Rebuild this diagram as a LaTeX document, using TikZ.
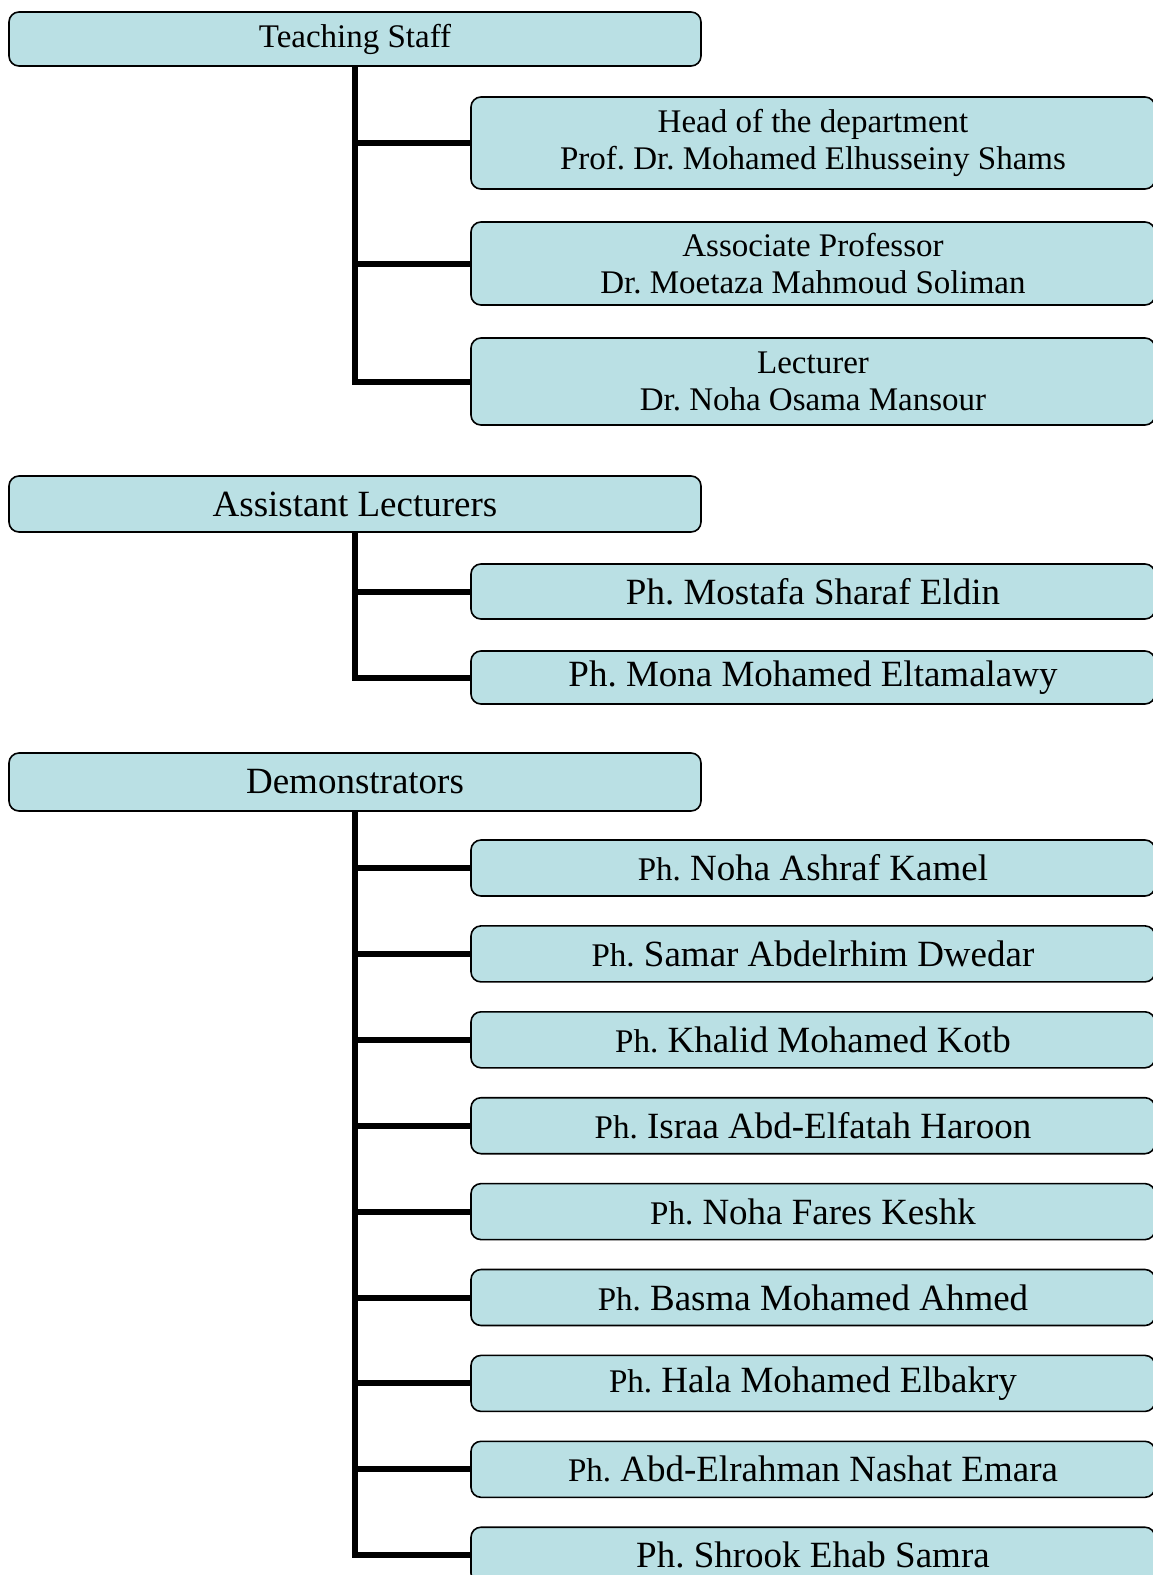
\documentclass[tikz,border=0pt]{standalone}
\usepackage{fontspec}
\setmainfont{Liberation Serif}
\frenchspacing
\definecolor{boxblue}{RGB}{186,224,228}
\tikzset{
  group/.style={draw, fill=boxblue, rounded corners=5pt, line width=0.8pt, inner sep=0pt, minimum width=346pt},
  member/.style={draw, fill=boxblue, rounded corners=5pt, line width=0.8pt, inner sep=0pt, minimum width=342pt, align=center},
  link/.style={line width=3pt}
}
\newcommand{\smallfs}{\fontsize{16.5}{18.75}\selectfont}
\newcommand{\bigfs}{\fontsize{18.5}{22}\selectfont}
\newcommand{\ph}{{\smallfs Ph.}}
\begin{document}
\begin{tikzpicture}[x=0.5pt, y=-0.5pt]
\useasboundingbox (0,0) rectangle (1152,1575);
 %% teaching staff
\node[group, minimum height=27pt, font=\smallfs] at (355,39) (ts) {Teaching Staff};
\node[member, minimum height=46pt, font=\smallfs] at (813,143) (hd) {Head of the department\\Prof. Dr. Mohamed Elhusseiny Shams};
\node[member, minimum height=41.5pt, font=\smallfs] at (813,263.5) (ap) {Associate Professor\\Dr. Moetaza Mahmoud Soliman};
\node[member, minimum height=43.5pt, font=\smallfs] at (813,381.5) (lc) {Lecturer\\Dr. Noha Osama Mansour};
\draw[link] (ts.south) |- (hd.west); \draw[link] (ts.south) |- (ap.west); \draw[link] (ts.south) |- (lc.west);
 %% assistant lecturers
\node[group, minimum height=28pt, font=\bigfs] at (355,504) (al) {Assistant Lecturers};
\node[member, minimum height=27.5pt, font=\bigfs] at (813,591.5) (ms) {Ph. Mostafa Sharaf Eldin};
\node[member, minimum height=26.5pt, font=\bigfs] at (813,677.5) (mn) {Ph. Mona Mohamed Eltamalawy};
\draw[link] (al.south) |- (ms.west); \draw[link] (al.south) |- (mn.west);
 %% demonstrators
\node[group, minimum height=29pt, font=\bigfs] at (355,782) (dm) {Demonstrators};
\node[member, minimum height=28pt, font=\bigfs] at (813,868) (d1) {\ph{} Noha Ashraf Kamel};
\node[member, minimum height=28pt, font=\bigfs] at (813,953.9) (d2) {\ph{} Samar Abdelrhim Dwedar};
\node[member, minimum height=28pt, font=\bigfs] at (813,1039.8) (d3) {\ph{} Khalid Mohamed Kotb};
\node[member, minimum height=28pt, font=\bigfs] at (813,1125.7) (d4) {\ph{} Israa Abd-Elfatah Haroon};
\node[member, minimum height=28pt, font=\bigfs] at (813,1211.6) (d5) {\ph{} Noha Fares Keshk};
\node[member, minimum height=28pt, font=\bigfs] at (813,1297.5) (d6) {\ph{} Basma Mohamed Ahmed};
\node[member, minimum height=28pt, font=\bigfs] at (813,1383.4) (d7) {\ph{} Hala Mohamed Elbakry};
\node[member, minimum height=28pt, font=\bigfs] at (813,1469.3) (d8) {\ph{} Abd-Elrahman Nashat Emara};
\node[member, minimum height=28pt, font=\bigfs] at (813,1555.2) (d9) {Ph. Shrook Ehab Samra};
\draw[link] (dm.south) |- (d1.west); \draw[link] (dm.south) |- (d2.west); \draw[link] (dm.south) |- (d3.west);
\draw[link] (dm.south) |- (d4.west); \draw[link] (dm.south) |- (d5.west); \draw[link] (dm.south) |- (d6.west);
\draw[link] (dm.south) |- (d7.west); \draw[link] (dm.south) |- (d8.west); \draw[link] (dm.south) |- (d9.west);
\end{tikzpicture}
\end{document}
